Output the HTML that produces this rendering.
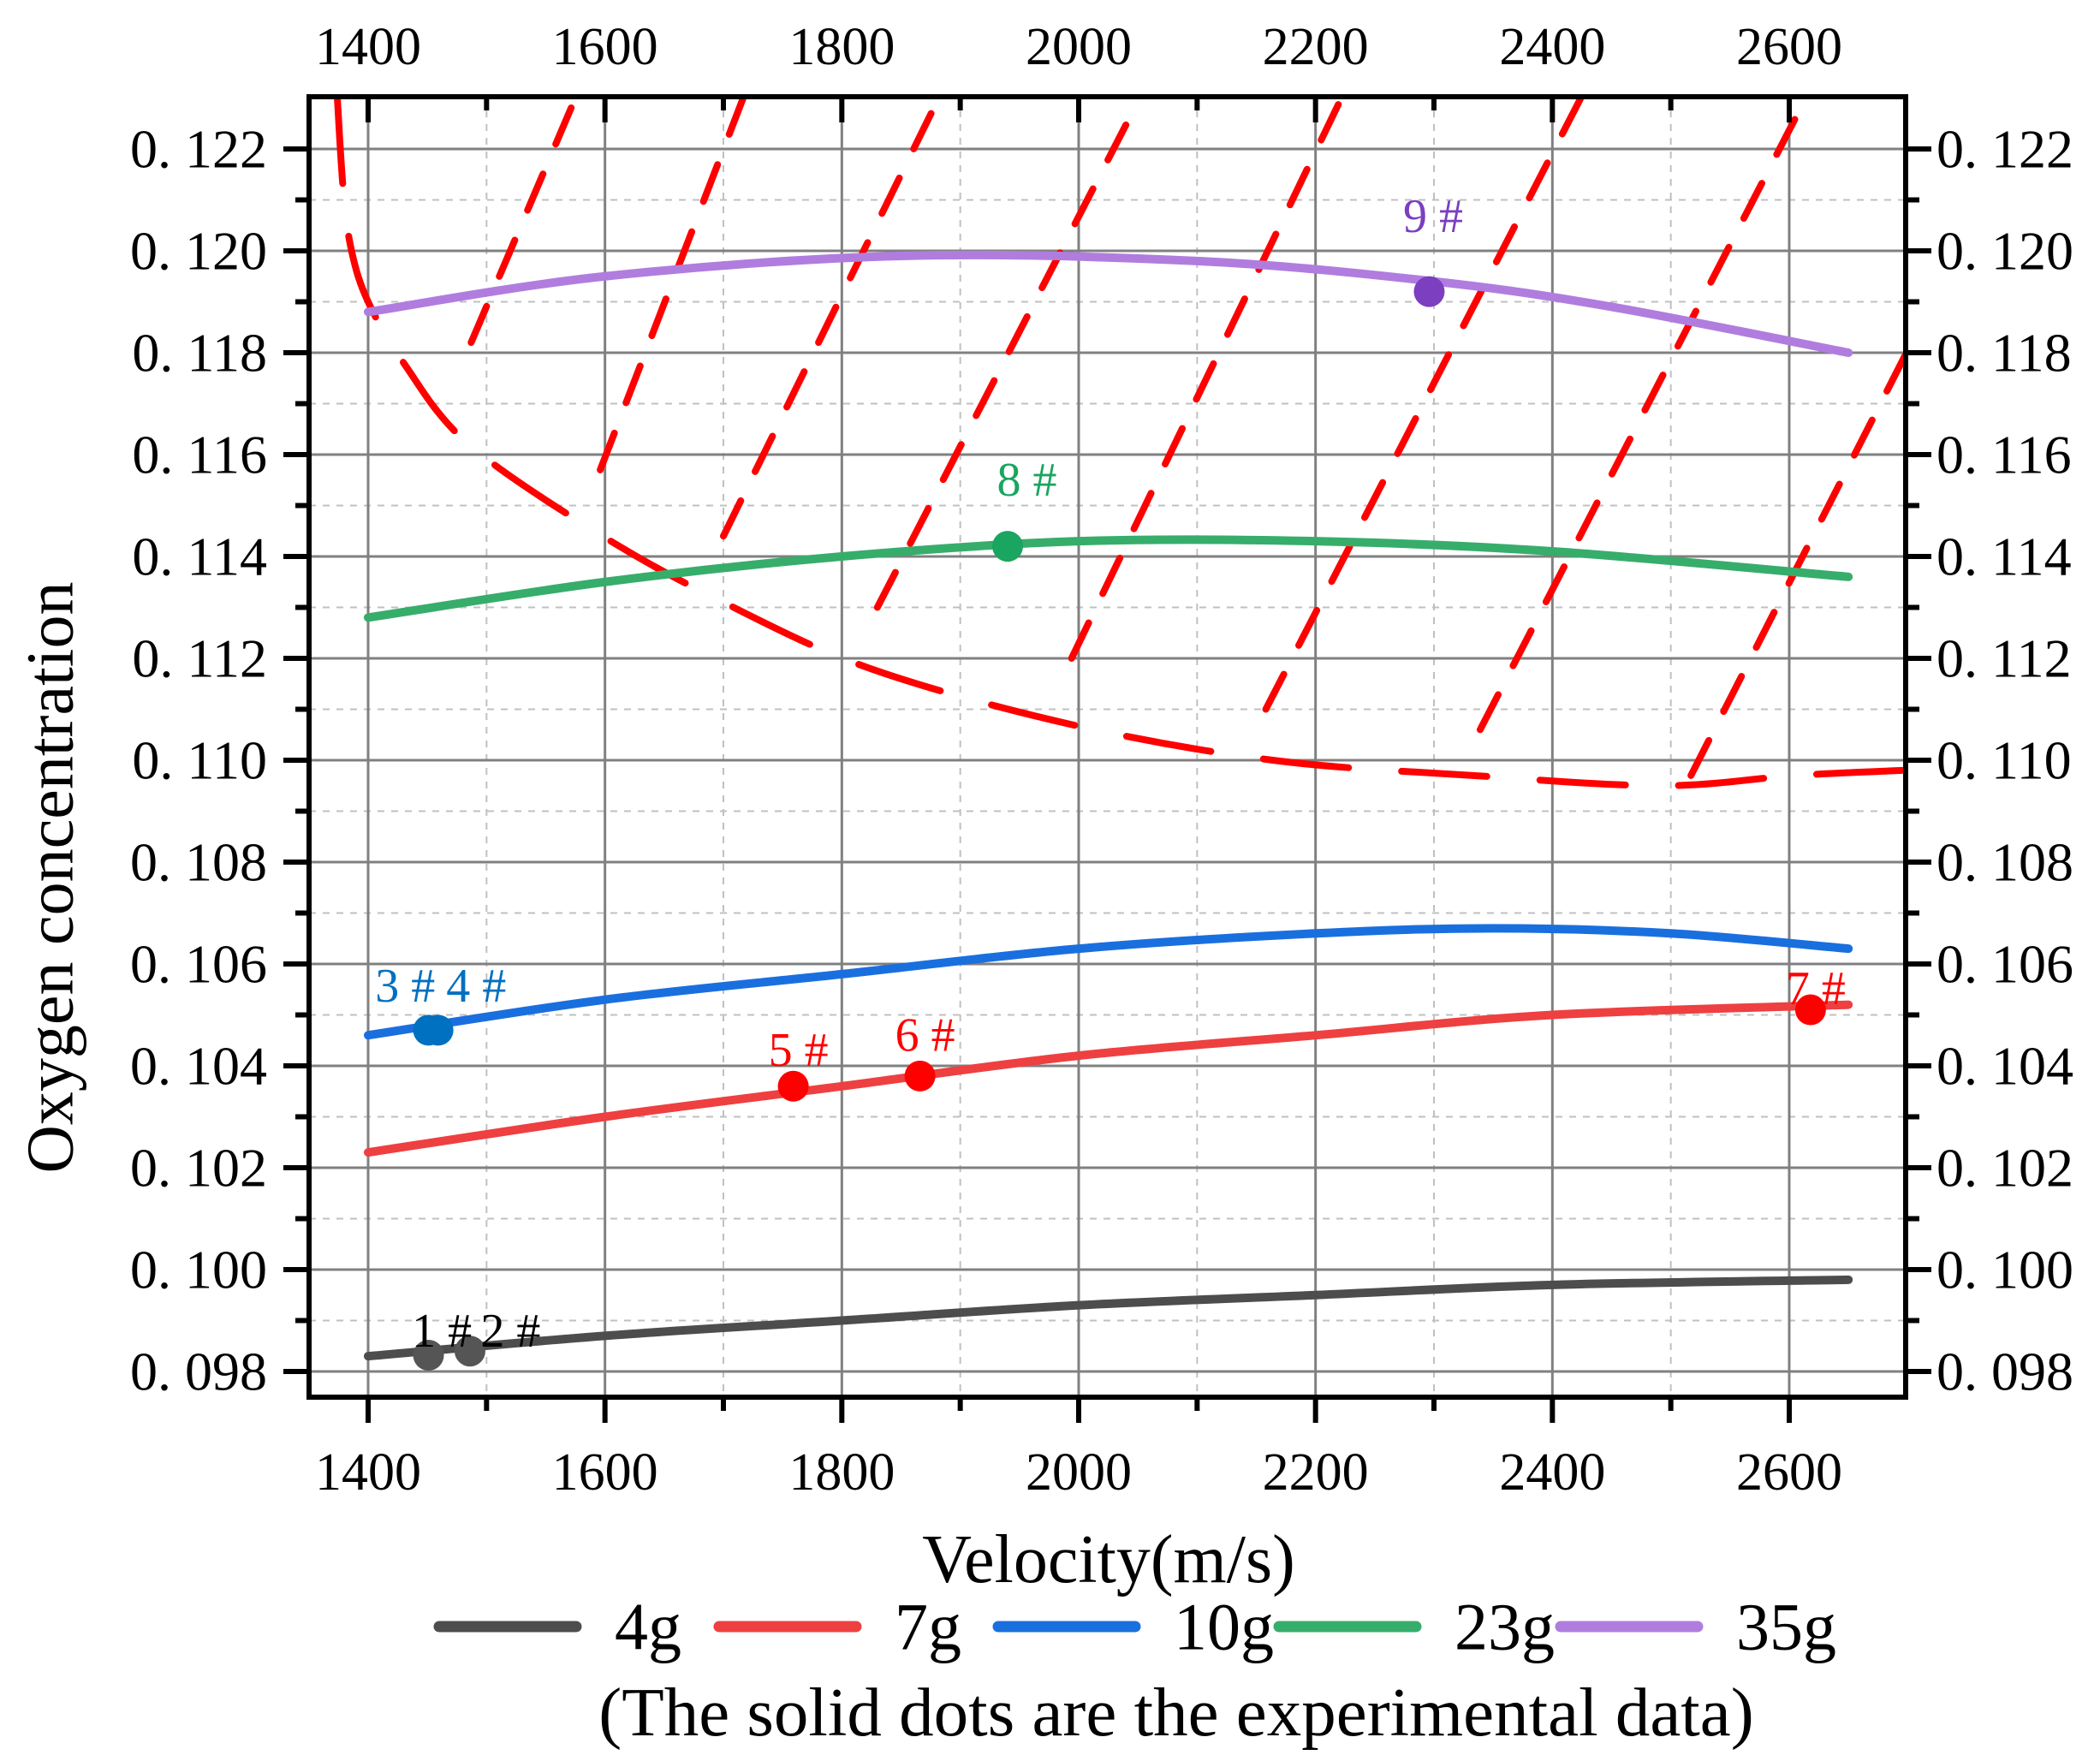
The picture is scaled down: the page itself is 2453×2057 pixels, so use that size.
<!DOCTYPE html>
<html><head><meta charset="utf-8"><style>
html,body{margin:0;padding:0;background:#fff}
svg{display:block;font-family:"Liberation Serif",serif}
</style></head><body>
<svg id="chart" width="2453" height="2057" viewBox="0 0 2453 2057" xmlns="http://www.w3.org/2000/svg">
<defs><clipPath id="plotclip"><rect x="361" y="113" width="1865" height="1519"/></clipPath></defs>
<g id="grid"></g>
<g id="series" clip-path="url(#plotclip)"></g>
<g id="axes"></g>
<text x="58" y="1025" font-size="78" text-anchor="middle" dominant-baseline="central" transform="rotate(-90 58 1025)">Oxygen concentration</text>
<text x="1295" y="1822" font-size="80" text-anchor="middle" dominant-baseline="central">Velocity(m/s)</text>
<text x="1374" y="2000" font-size="81" text-anchor="middle" dominant-baseline="central">(The solid dots are the experimental data)</text>
<g id="legend"></g>
</svg>
<script>
const NS='http://www.w3.org/2000/svg';
const xTicks=[1400,1600,1800,2000,2200,2400,2600];
const yTicks=[0.098,0.100,0.102,0.104,0.106,0.108,0.110,0.112,0.114,0.116,0.118,0.120,0.122];
const yTickLabels=['0. 098','0. 100','0. 102','0. 104','0. 106','0. 108','0. 110','0. 112','0. 114','0. 116','0. 118','0. 120','0. 122'];
const seriesNames=['4g','7g','10g','23g','35g'];
const vel4=[1400,1600,1800,2000,2200,2400,2650];
const c4=[0.0983,0.0987,0.0990,0.0993,0.0995,0.0997,0.0998];
const vel7=[1400,1600,1800,2000,2200,2400,2650];
const c7=[0.1023,0.1030,0.1036,0.1042,0.1046,0.1050,0.1052];
const vel10=[1400,1600,1800,2000,2200,2350,2500,2650];
const c10=[0.1046,0.1053,0.1058,0.1063,0.1066,0.1067,0.1066,0.1063];
const vel23=[1400,1600,1800,2000,2200,2400,2650];
const c23=[0.1128,0.1135,0.1140,0.1143,0.1143,0.1141,0.1136];
const vel35=[1400,1600,1850,2100,2300,2450,2650];
const c35=[0.1188,0.1195,0.1199,0.1198,0.1194,0.1189,0.1180];
const ptLabels=['1 #','2 #','3 #','4 #','5 #','6 #','7 #','8 #','9 #'];
const ptVel=[1451,1486,1451,1459,1759,1866,2618,1940,2296];
const ptC=[0.09832,0.0984,0.1047,0.1047,0.1036,0.1038,0.1051,0.1142,0.1192];
const ptSeries=[0,0,2,2,1,1,1,3,4];
const lblVel=[1437,1495,1406,1466,1738,1845,2597,1931,2274];
const lblC=[0.09849,0.09849,0.10526,0.10526,0.10400,0.10429,0.10521,0.11519,0.12037];
const envVel=[1374,1379,1386,1400,1430,1485,1598,1700,1824,1994,2164,2333,2492,2605,2695];
const envC=[0.1230,0.1212,0.1200,0.1190,0.1178,0.1162,0.1144,0.1131,0.1118,0.1107,0.1100,0.1097,0.1095,0.1097,0.1098];
const diagV0=[1487,1596,1700,1830,1994,2158,2339,2517];
const diagC0=[0.1182,0.1157,0.1144,0.1130,0.1120,0.1110,0.1106,0.1097];
const diagV1=[1575,1720,1886,2056,2226,2424,2614,2699];
const diagC1=[0.1230,0.1232,0.1232,0.1232,0.1232,0.1230,0.1230,0.1180];

const L=361,R=2226,T=113,B=1632;
const X=v=>430+(v-1400)*(1660/1200);
const Y=c=>1602-(c-0.098)*59500;
const colors=['#4d4d4d','#ee4040','#1a6fdf','#37ad6b','#b07ddf'];
const dotColors=['#555555','#ff0000','#0070c0','#1aa560','#7b3fbf'];
const lblColors=['#000000','#ff0000','#0070c0','#1aa560','#7b3fbf'];
function mk(t,a,p){const e=document.createElementNS(NS,t);for(const k in a)e.setAttribute(k,a[k]);p.appendChild(e);return e;}
const grid=document.getElementById('grid'),ser=document.getElementById('series'),axes=document.getElementById('axes'),leg=document.getElementById('legend');
for(let v=1300;v<=2700;v+=100){const x=X(v);if(x<=L||x>=R)continue;if(v%200===0)continue;
 const l=mk('line',{x1:x,x2:x,y1:T,y2:B,stroke:'#c0c0c0','stroke-width':2,'stroke-dasharray':'8 8'},grid);
 }
for(let i=-1;i<yTicks.length;i++){const y=Y(0.097+0.002*(i+1));if(y<=T||y>=B)continue;
 const l=mk('line',{x1:L,x2:R,y1:y,y2:y,stroke:'#c0c0c0','stroke-width':2,'stroke-dasharray':'8 8'},grid);
 }
xTicks.forEach(v=>{const x=X(v);const l=mk('line',{x1:x,x2:x,y1:T,y2:B,stroke:'#808080','stroke-width':3},grid);
 });
yTicks.forEach(c=>{const y=Y(c);const l=mk('line',{x1:L,x2:R,y1:y,y2:y,stroke:'#808080','stroke-width':3},grid);
 });
function smooth(pts){let d='M'+pts[0][0]+','+pts[0][1];
 for(let i=0;i<pts.length-1;i++){const p0=pts[i-1]||pts[i],p1=pts[i],p2=pts[i+1],p3=pts[i+2]||p2;
  d+=' C'+(p1[0]+(p2[0]-p0[0])/6)+','+(p1[1]+(p2[1]-p0[1])/6)+' '+(p2[0]-(p3[0]-p1[0])/6)+','+(p2[1]-(p3[1]-p1[1])/6)+' '+p2[0]+','+p2[1];}
 return d;}
{const p=mk('path',{d:smooth(envVel.map((v,i)=>[X(v),Y(envC[i])])),fill:'none',stroke:'#ff0000','stroke-width':8,'stroke-dasharray':'100 62','stroke-linecap':'round'},ser);
 }
for(let i=0;i<diagV0.length;i++){const l=mk('line',{x1:X(diagV0[i]),y1:Y(diagC0[i]),x2:X(diagV1[i]),y2:Y(diagC1[i]),stroke:'#ff0000','stroke-width':8,'stroke-dasharray':'46 38','stroke-linecap':'round'},ser);
 }
const V=[vel4,vel7,vel10,vel23,vel35],C=[c4,c7,c10,c23,c35];
for(let s=0;s<5;s++){const p=mk('path',{d:smooth(V[s].map((v,i)=>[X(v),Y(C[s][i])])),fill:'none',stroke:colors[s],'stroke-width':10,'stroke-linecap':'round'},ser);
 }
for(let i=0;i<ptVel.length;i++){const s=ptSeries[i];
 const c=mk('circle',{cx:X(ptVel[i]),cy:Y(ptC[i]),r:18,fill:dotColors[s]},ser);
 }
for(let i=0;i<lblVel.length;i++){const s=ptSeries[i];
 const t=mk('text',{x:X(lblVel[i]),y:Y(lblC[i]),'font-size':56,fill:lblColors[s]},axes);
 t.textContent=ptLabels[i];}
{const r=mk('rect',{x:L,y:T,width:R-L,height:B-T,fill:'none',stroke:'#000','stroke-width':6},axes);}
for(let v=1300;v<=2700;v+=100){const x=X(v);if(x<=L||x>=R)continue;const maj=v%200===0;
 const b=mk('line',{x1:x,x2:x,y1:B,y2:B+(maj?30:16),stroke:'#000','stroke-width':6},axes);
 const t=mk('line',{x1:x,x2:x,y1:T,y2:T+(maj?30:16),stroke:'#000','stroke-width':6},axes);}
for(let i=-1;i<yTicks.length;i++){[0,0.001].forEach(o=>{const c=(i<0?0.096:yTicks[i])+o;const y=Y(c);if(y<=T+3||y>=B-3)return;const maj=o===0;
 const a=mk('line',{x1:L-(maj?30:16),x2:L,y1:y,y2:y,stroke:'#000','stroke-width':6},axes);
 const b=mk('line',{x1:R,x2:R+(maj?30:16),y1:y,y2:y,stroke:'#000','stroke-width':6},axes);});}
xTicks.forEach(v=>{const x=X(v);
 const a=mk('text',{x:x,y:1720,'font-size':62,'text-anchor':'middle','dominant-baseline':'central'},axes);a.textContent=v;
 const b=mk('text',{x:x,y:55,'font-size':62,'text-anchor':'middle','dominant-baseline':'central'},axes);b.textContent=v;});
yTicks.forEach((c,i)=>{const y=Y(c);
 const a=mk('text',{x:312,y:y,'font-size':64,'text-anchor':'end','dominant-baseline':'central'},axes);a.textContent=yTickLabels[i];
 const b=mk('text',{x:2262,y:y,'font-size':64,'text-anchor':'start','dominant-baseline':'central'},axes);b.textContent=yTickLabels[i];});
const legLineX=[513,840,1166,1494,1823];
for(let s=0;s<5;s++){const x=legLineX[s];
 const g=mk('g',{},leg);
 mk('line',{x1:x,x2:x+160,y1:1900,y2:1900,stroke:colors[s],'stroke-width':13,'stroke-linecap':'round'},g);
 const t=mk('text',{x:x+205,y:1900,'font-size':78,'dominant-baseline':'central'},g);t.textContent=seriesNames[s];}
</script>
</body></html>
